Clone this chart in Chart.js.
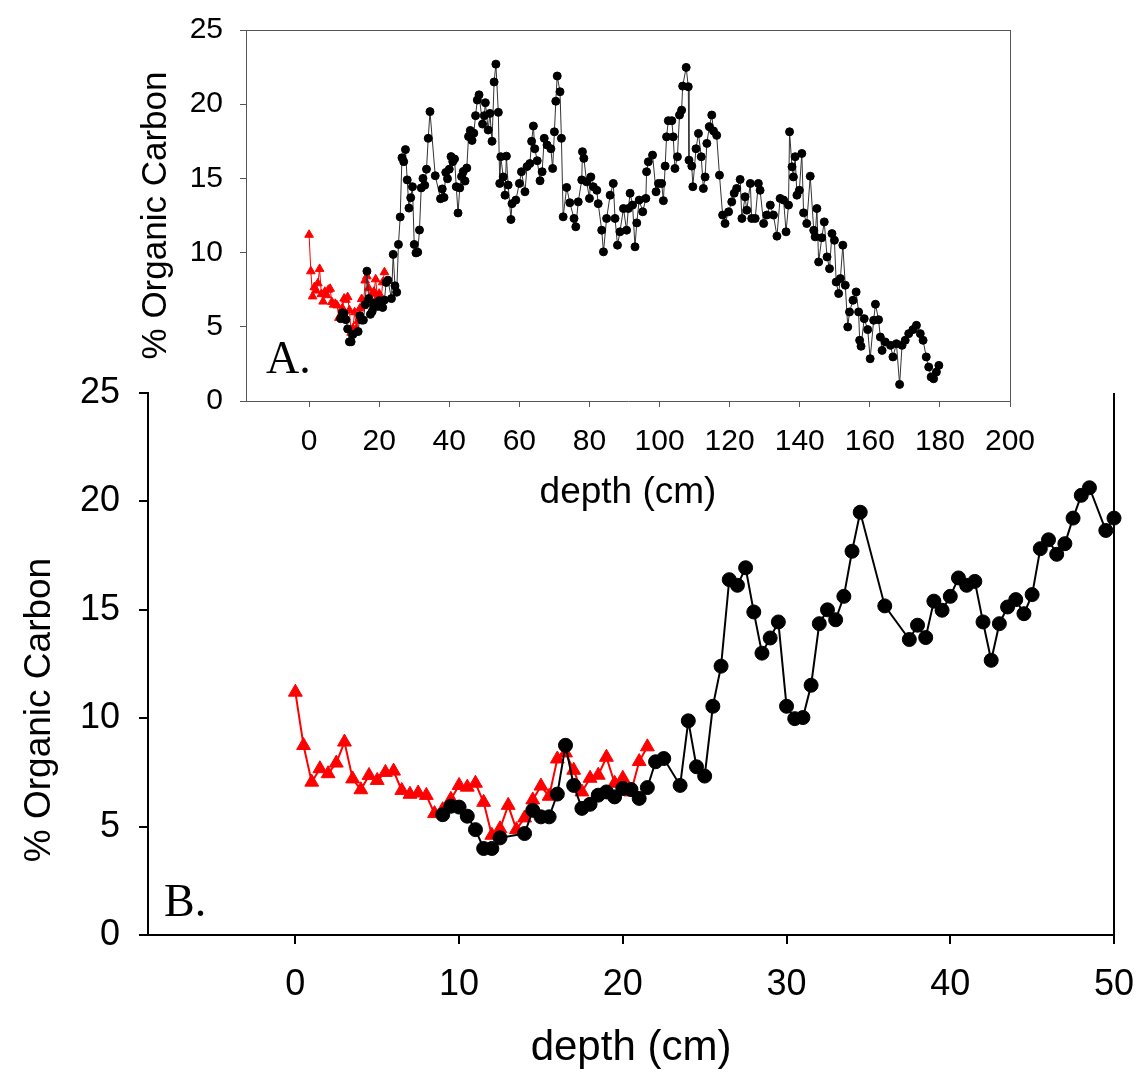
<!DOCTYPE html>
<html>
<head>
<meta charset="utf-8">
<title>% Organic Carbon vs depth</title>
<script src="https://cdn.jsdelivr.net/npm/chart.js@4.4.1/dist/chart.umd.min.js"></script>
<style>
  html, body { margin: 0; padding: 0; background: #fff; }
  #wrap { position: relative; width: 1138px; height: 1078px; }
  #wrap canvas { position: absolute; left: 0; top: 0; }
</style>
</head>
<body>
<div id="wrap">
  <canvas id="chartB" width="1138" height="1078"></canvas>
  <canvas id="chartA" width="1138" height="1078"></canvas>
</div>
<script>
// surface core (red triangles)
const redDepth = [0, 0.5, 1, 1.5, 2, 2.5, 3, 3.5, 4, 4.5, 5, 5.5, 6, 6.5, 7, 7.5, 8, 8.5, 9, 9.5,
  10, 10.5, 11, 11.5, 12, 12.5, 13, 13.5, 14, 14.5, 15, 15.5, 16, 16.5, 17, 17.5, 18, 18.5, 19, 19.5,
  20, 20.5, 21, 21.5];
const redCarbon = [11.2, 8.74, 7.05, 7.67, 7.44, 7.93, 8.9, 7.2, 6.7, 7.36, 7.13, 7.5, 7.56, 6.67, 6.49, 6.55, 6.44, 5.6, 5.78, 6.26,
  6.9, 6.82, 7.0, 6.12, 4.6, 4.9, 5.98, 4.86, 5.4, 6.23, 6.87, 6.4, 8.12, 8.4, 7.6, 6.6, 7.23, 7.37, 8.2, 7.0,
  7.23, 6.6, 8.0, 8.68];

// long core, top part (black circles, shown in both panels)
const coreDepth = [9, 9.5, 10, 10.5, 11, 11.5, 12, 12.5, 14, 14.5, 15, 15.5, 16, 16.5, 17, 17.5, 18, 18.5, 19, 19.5,
  20, 20.5, 21, 21.5, 22, 22.5, 23.5, 24, 24.5, 25, 25.5, 26, 26.5, 27, 27.5, 28, 28.5, 29, 29.5, 30,
  30.5, 31, 31.5, 32, 32.5, 33, 33.5, 34, 34.5, 36, 37.5, 38, 38.5, 39, 39.5, 40, 40.5, 41, 41.5, 42,
  42.5, 43, 43.5, 44, 44.5, 45, 45.5, 46, 46.5, 47, 47.5, 48, 48.5, 49.5, 50];
const coreCarbon = [5.55, 5.94, 5.9, 5.48, 4.86, 3.99, 3.99, 4.48, 4.68, 5.75, 5.45, 5.45, 6.5, 8.75, 6.9, 5.84, 6.03, 6.45, 6.6, 6.37,
  6.76, 6.71, 6.3, 6.8, 7.99, 8.14, 6.9, 9.88, 7.76, 7.33, 10.55, 12.4, 16.39, 16.13, 16.94, 14.9, 13.0, 13.7, 14.44, 10.55,
  9.98, 10.03, 11.52, 14.36, 15.0, 14.54, 15.62, 17.7, 19.5, 15.18, 13.63, 14.29, 13.72, 15.4, 14.98, 15.62, 16.47, 16.13, 16.31, 14.44,
  12.67, 14.36, 15.13, 15.47, 14.82, 15.7, 17.82, 18.23, 17.56, 18.05, 19.23, 20.28, 20.63, 18.66, 19.23];

// long core, below 50 cm (panel A only)
const deepDepth = [50.3, 51.1, 51.6, 52.2, 52.8, 53.3, 54.0, 54.4, 54.7, 55.4, 55.9, 56.3, 56.8, 57.6, 57.9, 59.0, 60.0, 60.6, 61.6, 62.2,
  63.0, 63.5, 64.0, 64.4, 65.1, 65.9, 66.5, 67.1, 67.9, 69.0, 69.5, 70.0, 70.4, 70.8, 71.6, 72.0, 72.5, 73.5, 74.4, 75.6,
  76.1, 76.8, 77.8, 78.0, 78.4, 79.2, 80.0, 80.4, 81.1, 82.1, 82.5, 83.5, 84.0, 84.9, 85.9, 86.8, 87.3, 88.0, 88.7, 89.7,
  90.6, 91.1, 91.6, 92.3, 93.0, 93.5, 94.2, 95.2, 96.1, 96.3, 96.8, 98.0, 99.0, 99.7, 100.6, 101.1, 101.6, 102.0, 102.5, 103.5,
  103.9, 104.4, 105.1, 105.7, 106.3, 106.6, 107.6, 108.2, 108.4, 109.2, 109.5, 110.4, 111.1, 111.9, 112.5, 113.0, 113.5, 114.2, 114.9, 115.4,
  116.3, 117.1, 118.0, 118.7, 119.7, 120.6, 121.3, 122.0, 123.0, 123.5, 124.4, 124.9, 125.9, 126.3, 127.3, 128.2, 128.7, 129.7, 130.6, 131.6,
  132.5, 133.5, 134.4, 135.4, 136.1, 136.8, 137.1, 137.8, 138.2, 138.7, 139.2, 139.9, 140.6, 141.1, 142.0, 143.0, 144.0, 144.4, 144.9, 145.4,
  146.3, 147.0, 147.8, 148.5, 149.2, 149.9, 150.4, 151.1, 151.6, 152.3, 153.0, 153.7, 154.2, 155.2, 156.1, 156.8, 157.1, 157.5, 158.4, 159.4,
  160.1, 161.1, 161.6, 162.5, 163.0, 163.5, 164.4, 165.9, 166.6, 167.6, 168.5, 169.2, 170.1, 171.1, 172.3, 173.3, 174.4, 175.2, 176.1, 176.8,
  177.5, 178.2, 179.0, 179.7];
const deepCarbon = [20.1, 18.26, 19.38, 17.5, 21.5, 22.7, 19.45, 14.66, 16.46, 15.1, 13.87, 16.5, 14.55, 12.23, 13.3, 13.54, 14.66, 15.45, 14.1, 15.8,
  16.0, 17.5, 18.53, 17.0, 16.19, 14.84, 15.45, 17.7, 17.25, 17.0, 15.67, 18.14, 20.2, 21.9, 20.84, 17.7, 12.41, 14.39, 13.36, 12.3,
  11.74, 13.42, 14.9, 16.8, 16.35, 14.77, 13.65, 15.1, 14.44, 14.2, 13.3, 11.51, 10.05, 12.3, 13.87, 14.66, 12.3, 10.5, 11.4, 12.97,
  11.51, 12.97, 14.0, 13.2, 10.39, 12.0, 13.54, 12.75, 13.65, 15.45, 16.12, 16.57, 14.1, 14.66, 14.66, 13.5, 15.83, 17.8, 18.89, 18.89,
  17.8, 15.67, 16.46, 19.27, 19.6, 21.22, 22.48, 21.18, 16.23, 15.83, 14.44, 17.0, 18.03, 16.46, 14.32, 15.1, 17.36, 18.48, 19.27, 18.2,
  17.9, 15.22, 12.53, 11.96, 12.75, 13.42, 14.0, 14.32, 14.93, 12.3, 13.76, 12.86, 14.66, 12.3, 12.3, 14.66, 14.2, 11.96, 12.53, 13.2,
  12.53, 11.11, 13.65, 13.54, 11.4, 13.2, 18.14, 15.78, 15.1, 16.46, 13.87, 14.2, 16.68, 12.68, 11.96, 15.15, 11.5, 11.06, 12.97, 9.37,
  11.0, 12.07, 9.71, 8.92, 11.28, 10.83, 8.02, 7.24, 8.25, 10.5, 7.8, 4.99, 6.0, 6.79, 7.35, 6.0, 4.09, 3.69, 5.55, 4.81,
  2.85, 5.44, 6.52, 5.48, 4.31, 3.41, 3.98, 3.75, 2.97, 3.86, 1.12, 3.75, 4.09, 4.54, 4.81, 5.1, 4.54, 4.09, 2.97, 2.29,
  1.62, 1.5, 1.95, 2.4];

// axis ticks
const xTicksA = [0, 20, 40, 60, 80, 100, 120, 140, 160, 180, 200];
const xTicksB = [0, 10, 20, 30, 40, 50];
const yTicks = [0, 5, 10, 15, 20, 25];

Chart.defaults.font.family = '"Liberation Sans", Arial, sans-serif';
Chart.defaults.color = '#000';

const toPoints = (xs, ys) => xs.map((x, i) => ({ x: x, y: ys[i] }));
const setTicks = list => axis => { axis.ticks = list.map(v => ({ value: v })); };

// fixed axis size, and let the end labels hang out of the plot instead of shrinking it
const fixSize = (w, h) => s => {
  if (w !== null) s.width = w;
  if (h !== null) s.height = h;
  s.paddingLeft = s.paddingRight = s.paddingTop = s.paddingBottom = 0;
};

// top / right frame lines that Chart.js has no axis for
const frameLines = {
  id: 'frameLines',
  beforeDatasetsDraw(chart, args, opts) {
    const { ctx, chartArea: a } = chart;
    const off = opts.width % 2 ? 0.5 : 0;
    ctx.save();
    ctx.strokeStyle = opts.color;
    ctx.lineWidth = opts.width;
    ctx.beginPath();
    if (opts.top) {
      ctx.moveTo(a.left, Math.round(a.top) + off);
      ctx.lineTo(a.right, Math.round(a.top) + off);
    }
    if (opts.right) {
      ctx.moveTo(Math.round(a.right) + off, a.top);
      ctx.lineTo(Math.round(a.right) + off, a.bottom);
    }
    ctx.stroke();
    ctx.restore();
  }
};

// panel letters and free-standing labels
const panelText = {
  id: 'panelText',
  afterDraw(chart, args, opts) {
    const ctx = chart.ctx;
    (opts.items || []).forEach(t => {
      ctx.save();
      ctx.font = t.font;
      ctx.fillStyle = '#000';
      ctx.textAlign = t.align || 'left';
      ctx.textBaseline = t.baseline || 'alphabetic';
      ctx.translate(t.x, t.y);
      if (t.rotate) ctx.rotate(t.rotate);
      ctx.fillText(t.text, 0, 0);
      ctx.restore();
    });
  }
};

// Panel B: zoom on the top 50 cm
new Chart(document.getElementById('chartB'), {
  type: 'scatter',
  data: {
    datasets: [
      {
        label: 'core',
        data: toPoints(coreDepth, coreCarbon),
        showLine: true,
        borderColor: '#000',
        borderWidth: 2,
        pointStyle: 'circle',
        pointRadius: 7,
        pointBackgroundColor: '#000',
        pointBorderColor: '#000',
        pointBorderWidth: 1,
        clip: false
      },
      {
        label: 'surface',
        data: toPoints(redDepth, redCarbon),
        showLine: true,
        borderColor: '#ff0000',
        borderWidth: 2,
        pointStyle: 'triangle',
        pointRadius: 8,
        pointBackgroundColor: '#ff0000',
        pointBorderColor: '#ff0000',
        pointBorderWidth: 1,
        clip: false
      }
    ]
  },
  options: {
    responsive: false,
    animation: false,
    devicePixelRatio: 1,
    layout: { padding: { top: 393, right: 24, bottom: 0, left: 0 } },
    plugins: {
      legend: { display: false },
      tooltip: { enabled: false },
      frameLines: { top: false, right: true, color: '#000', width: 2 },
      panelText: {
        items: [
          { text: 'B.', x: 164, y: 916, font: '46px "Liberation Serif"' },
          { text: '% Organic Carbon', x: 40, y: 710, rotate: -Math.PI / 2, align: 'center', baseline: 'middle',
            font: '37px "Liberation Sans"' }
        ]
      }
    },
    scales: {
      x: {
        type: 'linear',
        min: -9,
        max: 50,
        afterBuildTicks: setTicks(xTicksB),
        afterFit: fixSize(null, 143),
        ticks: { font: { size: 36 }, padding: 19, autoSkip: false, maxRotation: 0 },
        grid: { drawOnChartArea: false, drawTicks: true, tickLength: 9, color: '#000', lineWidth: 2 },
        border: { display: true, color: '#000', width: 2 },
        title: { display: true, text: 'depth (cm)', font: { size: 42 }, padding: { top: 0, bottom: 4 } }
      },
      y: {
        type: 'linear',
        min: 0,
        max: 25,
        afterBuildTicks: setTicks(yTicks),
        afterFit: fixSize(148, null),
        ticks: { font: { size: 36 }, padding: 19 },
        grid: { drawOnChartArea: false, drawTicks: true, tickLength: 9, color: '#000', lineWidth: 2 },
        border: { display: true, color: '#000', width: 2 }
      }
    }
  },
  plugins: [frameLines, panelText]
});

// Panel A: whole core, drawn on top as an inset
new Chart(document.getElementById('chartA'), {
  type: 'scatter',
  data: {
    datasets: [
      {
        label: 'core',
        data: toPoints(coreDepth.concat(deepDepth), coreCarbon.concat(deepCarbon)),
        showLine: true,
        borderColor: '#333',
        borderWidth: 1,
        pointStyle: 'circle',
        pointRadius: 4,
        pointBackgroundColor: '#000',
        pointBorderColor: '#000',
        pointBorderWidth: 1
      },
      {
        label: 'surface',
        data: toPoints(redDepth, redCarbon),
        showLine: true,
        borderColor: '#ff0000',
        borderWidth: 1,
        pointStyle: 'triangle',
        pointRadius: 5,
        pointBackgroundColor: '#ff0000',
        pointBorderColor: '#ff0000',
        pointBorderWidth: 1
      }
    ]
  },
  options: {
    responsive: false,
    animation: false,
    devicePixelRatio: 1,
    layout: { padding: { top: 30, right: 128, bottom: 563, left: 0 } },
    plugins: {
      legend: { display: false },
      tooltip: { enabled: false },
      frameLines: { top: true, right: true, color: '#555', width: 1 },
      panelText: {
        items: [
          { text: 'A.', x: 266, y: 373, font: '46px "Liberation Serif"' }
        ]
      }
    },
    scales: {
      x: {
        type: 'linear',
        min: -18,
        max: 200,
        afterBuildTicks: setTicks(xTicksA),
        afterFit: fixSize(null, 114),
        ticks: { font: { size: 30 }, padding: 17, autoSkip: false, maxRotation: 0 },
        grid: { drawOnChartArea: false, drawTicks: true, tickLength: 6, color: '#555', lineWidth: 1 },
        border: { display: true, color: '#555', width: 1 },
        title: { display: true, text: 'depth (cm)', font: { size: 37 }, padding: { top: 0, bottom: 0 } }
      },
      y: {
        type: 'linear',
        min: 0,
        max: 25,
        afterBuildTicks: setTicks(yTicks),
        afterFit: fixSize(246, null),
        ticks: { font: { size: 30 }, padding: 17 },
        grid: { drawOnChartArea: false, drawTicks: true, tickLength: 6, color: '#555', lineWidth: 1 },
        border: { display: true, color: '#555', width: 1 },
        title: { display: true, text: '% Organic Carbon', font: { size: 35 }, padding: { top: 135, bottom: 0 } }
      }
    }
  },
  plugins: [frameLines, panelText]
});
</script>
</body>
</html>
